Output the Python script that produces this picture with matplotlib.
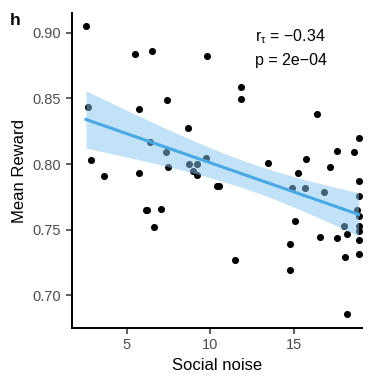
import numpy as np
import matplotlib
matplotlib.use("Agg")
from matplotlib import pyplot as plt

plt.rcParams["font.family"] = ["Liberation Sans", "DejaVu Sans"]
plt.rcParams["mathtext.fontset"] = "custom"
plt.rcParams["mathtext.rm"] = "Liberation Sans"
plt.rcParams["mathtext.it"] = "Liberation Sans:italic"

# data
social_noise = [2.56, 2.68, 2.86, 3.64, 5.5, 5.74, 5.76, 6.16, 6.22, 6.52, 6.62,
                6.4, 7.34, 7.4, 8.66, 9.82, 9.74, 7.08, 7.5, 8.76, 9.24, 9.0,
                9.22, 10.42, 10.56, 11.52, 11.86, 11.86, 13.44, 14.8, 14.8, 14.92,
                15.06, 15.24, 15.72, 15.68, 16.42, 16.6, 16.8, 17.2, 17.62, 17.62,
                18.05, 18.11, 18.23, 18.23, 18.64, 18.9, 18.9, 18.9, 18.8, 18.9,
                18.9, 18.9, 18.9, 18.9]
mean_reward = [0.905, 0.8435, 0.803, 0.791, 0.884, 0.842, 0.793, 0.765, 0.765, 0.886, 0.752,
               0.817, 0.809, 0.849, 0.8275, 0.882, 0.8045, 0.766, 0.798, 0.800, 0.800, 0.7945,
               0.7915, 0.7833, 0.7833, 0.7265, 0.8587, 0.8495, 0.801, 0.739, 0.719, 0.782,
               0.7565, 0.793, 0.804, 0.782, 0.838, 0.744, 0.7785, 0.798, 0.810, 0.7435,
               0.753, 0.729, 0.7465, 0.6853, 0.809, 0.8195, 0.787, 0.776, 0.7647, 0.7607,
               0.7527, 0.7489, 0.7418, 0.7316]
stat_lines = ["r$_{\\mathregular{\\tau}}$ = \u22120.34", "p = 2e\u221204"]

x = np.array(social_noise)
y = np.array(mean_reward)

fig = plt.figure(figsize=(3.79, 3.77), dpi=100)
ax = fig.add_axes([0.189, 0.13, 0.766, 0.835])

ax.scatter(x, y, s=26, color="black", zorder=2, linewidths=0)

# linear fit with 95% confidence band
b, a = np.polyfit(x, y, 1)
xs = np.linspace(x.min(), x.max(), 100)
n = len(x)
resid = y - (a + b * x)
s = np.sqrt(np.sum(resid ** 2) / (n - 2))
se = s * np.sqrt(1 / n + (xs - x.mean()) ** 2 / np.sum((x - x.mean()) ** 2))
fit = a + b * xs
ax.fill_between(xs, fit - 2.005 * se, fit + 2.005 * se, color="#86c9f0", alpha=0.5,
                linewidth=0, zorder=3)
ax.plot(xs, fit, color="#4aa8e2", linewidth=2.2, zorder=4)

ax.text(0.63, 0.955, stat_lines[0], transform=ax.transAxes, fontsize=11.5, va="top")
ax.text(0.63, 0.875, stat_lines[1], transform=ax.transAxes, fontsize=11.5, va="top")

ax.set_xlim(1.7, 19.1)
ax.set_ylim(0.675, 0.915)
ax.set_xticks([5, 10, 15])
ax.set_yticks([0.70, 0.75, 0.80, 0.85, 0.90])
ax.set_yticklabels(["0.70", "0.75", "0.80", "0.85", "0.90"])
ax.tick_params(labelsize=10.5, labelcolor="#4d4d4d", length=4, width=1.1, color="#333333")
for side in ["top", "right"]:
    ax.spines[side].set_visible(False)
for side in ["left", "bottom"]:
    ax.spines[side].set_linewidth(1.4)
ax.set_xlabel("Social noise", fontsize=12)
ax.set_ylabel("Mean Reward", fontsize=12)

fig.text(0.025, 0.965, "h", fontsize=12.5, fontweight="bold", va="top")

plt.savefig("out.png", dpi=100)
